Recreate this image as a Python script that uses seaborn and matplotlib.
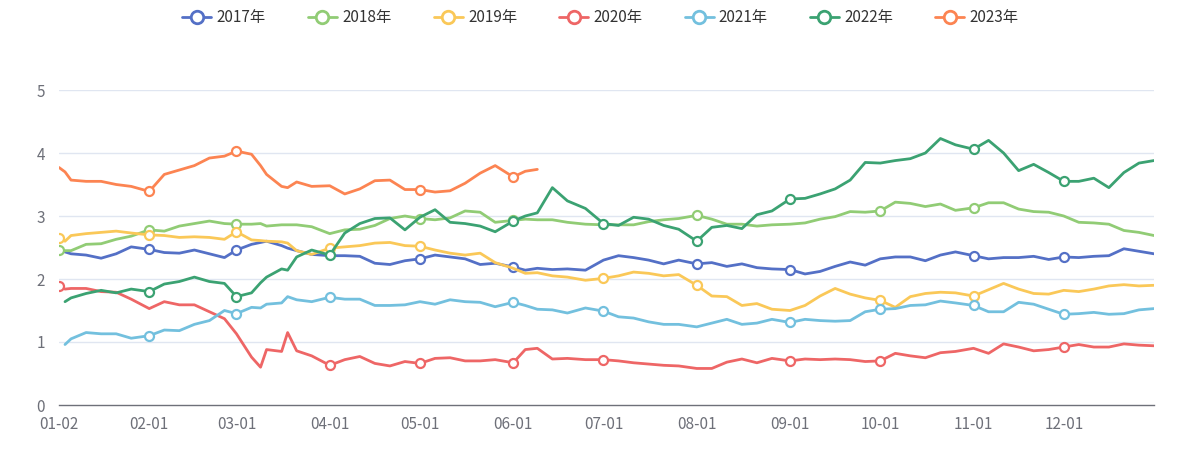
import numpy as np
import pandas as pd
import matplotlib
matplotlib.use("Agg")
import matplotlib.pyplot as plt
from matplotlib.lines import Line2D
import seaborn as sns

# ---------------- data ----------------
DATES = ["01-02", "01-04", "01-06", "01-11", "01-16", "01-21", "01-26",
         "02-01", "02-06", "02-11", "02-16", "02-21", "02-26",
         "03-01", "03-06", "03-09", "03-11", "03-16", "03-18", "03-21", "03-26",
         "04-01", "04-06", "04-11", "04-16", "04-21", "04-26",
         "05-01", "05-06", "05-11", "05-16", "05-21", "05-26",
         "06-01", "06-05", "06-09", "06-14", "06-19", "06-25",
         "07-01", "07-06", "07-11", "07-16", "07-21", "07-26",
         "08-01", "08-06", "08-11", "08-16", "08-21", "08-26",
         "09-01", "09-06", "09-11", "09-16", "09-21", "09-26",
         "10-01", "10-06", "10-11", "10-16", "10-21", "10-26",
         "11-01", "11-06", "11-11", "11-16", "11-21", "11-26",
         "12-01", "12-06", "12-11", "12-16", "12-21", "12-26", "12-31"]

TICK_LABELS = ["01-02", "02-01", "03-01", "04-01", "05-01", "06-01",
               "07-01", "08-01", "09-01", "10-01", "11-01", "12-01"]

YEARS = ["2017年", "2018年", "2019年", "2020年", "2021年", "2022年", "2023年"]
YEAR_NUMS = [2017, 2018, 2019, 2020, 2021, 2022, 2023]
HOLIDAYS = ["2017-01-02", "2023-01-02"]

nan = np.nan
v2017 = [nan, 2.43, 2.40, 2.38, 2.33, 2.40, 2.51,
         2.47, 2.42, 2.41, 2.46, 2.40, 2.34,
         2.46, 2.55, 2.58, 2.60, 2.53, 2.49, 2.45, 2.39,
         2.37, 2.37, 2.36, 2.25, 2.23, 2.29,
         2.32, 2.38, 2.35, 2.32, 2.23, 2.25,
         2.19, 2.14, 2.17, 2.15, 2.16, 2.14,
         2.30, 2.37, 2.34, 2.30, 2.24, 2.30,
         2.24, 2.26, 2.20, 2.24, 2.18, 2.16,
         2.15, 2.08, 2.12, 2.20, 2.27, 2.22,
         2.32, 2.35, 2.35, 2.29, 2.38, 2.43,
         2.37, 2.32, 2.34, 2.34, 2.36, 2.31,
         2.35, 2.34, 2.36, 2.37, 2.48, 2.44, 2.40]
v2018 = [2.46, 2.45, 2.45, 2.55, 2.56, 2.63, 2.68,
         2.78, 2.76, 2.84, 2.88, 2.92, 2.88,
         2.87, 2.87, 2.88, 2.84, 2.86, 2.86, 2.86, 2.83,
         2.72, 2.78, 2.79, 2.85, 2.96, 3.00,
         2.96, 2.94, 2.97, 3.08, 3.06, 2.90,
         2.93, 2.95, 2.94, 2.94, 2.90, 2.87,
         2.86, 2.86, 2.86, 2.91, 2.94, 2.96,
         3.01, 2.95, 2.87, 2.87, 2.84, 2.86,
         2.87, 2.89, 2.95, 2.99, 3.07, 3.06,
         3.08, 3.22, 3.20, 3.15, 3.19, 3.09,
         3.13, 3.21, 3.21, 3.11, 3.07, 3.06,
         3.00, 2.90, 2.89, 2.87, 2.77, 2.74, 2.69]
v2019 = [2.65, 2.60, 2.69, 2.72, 2.74, 2.76, 2.73,
         2.70, 2.69, 2.66, 2.67, 2.66, 2.63,
         2.75, 2.62, 2.61, 2.60, 2.59, 2.57, 2.45, 2.39,
         2.49, 2.51, 2.53, 2.57, 2.58, 2.53,
         2.52, 2.46, 2.41, 2.38, 2.41, 2.26,
         2.17, 2.09, 2.10, 2.05, 2.03, 1.98,
         2.01, 2.05, 2.11, 2.09, 2.05, 2.07,
         1.90, 1.73, 1.72, 1.58, 1.61, 1.52,
         1.50, 1.58, 1.73, 1.85, 1.76, 1.70,
         1.66, 1.55, 1.72, 1.77, 1.79, 1.78,
         1.73, 1.83, 1.93, 1.84, 1.77, 1.76,
         1.82, 1.80, 1.84, 1.89, 1.91, 1.89, 1.90]
v2020 = [1.89, 1.84, 1.85, 1.85, 1.80, 1.79, 1.68,
         1.53, 1.64, 1.59, 1.59, 1.48, 1.37,
         1.13, 0.76, 0.60, 0.88, 0.85, 1.15, 0.86, 0.78,
         0.63, 0.72, 0.77, 0.66, 0.62, 0.69,
         0.66, 0.74, 0.75, 0.70, 0.70, 0.72,
         0.67, 0.88, 0.90, 0.73, 0.74, 0.72,
         0.72, 0.70, 0.67, 0.65, 0.63, 0.62,
         0.58, 0.58, 0.68, 0.73, 0.67, 0.74,
         0.70, 0.73, 0.72, 0.73, 0.72, 0.69,
         0.70, 0.82, 0.78, 0.75, 0.83, 0.85,
         0.90, 0.82, 0.97, 0.92, 0.86, 0.88,
         0.92, 0.96, 0.92, 0.92, 0.97, 0.95, 0.94]
v2021 = [nan, 0.96, 1.05, 1.15, 1.13, 1.13, 1.06,
         1.10, 1.19, 1.18, 1.28, 1.34, 1.50,
         1.45, 1.55, 1.54, 1.60, 1.62, 1.72, 1.67, 1.64,
         1.71, 1.68, 1.68, 1.58, 1.58, 1.59,
         1.64, 1.60, 1.67, 1.64, 1.63, 1.56,
         1.63, 1.58, 1.52, 1.51, 1.46, 1.54,
         1.49, 1.40, 1.38, 1.32, 1.28, 1.28,
         1.24, 1.30, 1.36, 1.28, 1.30, 1.36,
         1.31, 1.36, 1.34, 1.33, 1.34, 1.48,
         1.52, 1.53, 1.58, 1.59, 1.65, 1.62,
         1.58, 1.48, 1.48, 1.63, 1.60, 1.52,
         1.44, 1.45, 1.47, 1.44, 1.45, 1.51, 1.53]
v2022 = [nan, 1.64, 1.70, 1.77, 1.82, 1.78, 1.84,
         1.80, 1.92, 1.96, 2.03, 1.96, 1.93,
         1.72, 1.78, 1.94, 2.03, 2.16, 2.14, 2.35, 2.46,
         2.38, 2.73, 2.88, 2.96, 2.97, 2.78,
         2.98, 3.10, 2.90, 2.88, 2.84, 2.75,
         2.92, 3.00, 3.05, 3.45, 3.24, 3.12,
         2.88, 2.85, 2.98, 2.95, 2.85, 2.79,
         2.60, 2.82, 2.85, 2.80, 3.02, 3.08,
         3.27, 3.28, 3.35, 3.43, 3.57, 3.85,
         3.84, 3.88, 3.91, 4.00, 4.23, 4.13,
         4.06, 4.20, 4.00, 3.72, 3.82, 3.69,
         3.55, 3.55, 3.60, 3.45, 3.69, 3.84, 3.88]
v2023 = [3.77, 3.70, 3.57, 3.55, 3.55, 3.50, 3.47,
         3.39, 3.66, 3.73, 3.80, 3.92, 3.95,
         4.03, 3.98, 3.80, 3.66, 3.47, 3.45, 3.54, 3.47,
         3.48, 3.35, 3.43, 3.56, 3.57, 3.42,
         3.42, 3.38, 3.40, 3.52, 3.68, 3.80,
         3.62, 3.71, 3.74]

SERIES = [v2017, v2018, v2019, v2020, v2021, v2022, v2023]
COLORS = ["#5470c6", "#91cc75", "#fac858", "#ee6666", "#73c0de", "#3ba272", "#fc8452"]

# ---------------- axis categories ----------------
CATS = list(pd.date_range("2020-01-02", "2020-12-31").strftime("%m-%d"))
cat_pos = {c: i for i, c in enumerate(CATS)}

rows = []
for name, yr, vals in zip(YEARS, YEAR_NUMS, SERIES):
    vals = list(vals) + [np.nan] * (len(DATES) - len(vals))
    for d, v in zip(DATES, vals):
        rows.append({"date": d, "pos": cat_pos[d], "value": v, "year": name, "yr": yr})
df = pd.DataFrame(rows)

# ---------------- style ----------------
sns.set_theme(style="white")
plt.rcParams["font.family"] = ["Noto Sans CJK SC", "DejaVu Sans"]

W, H = 1201, 450
fig = plt.figure(figsize=(W / 100, H / 100), dpi=100)
ax = fig.add_axes([59 / W, 1 - 405 / H, (1154 - 59) / W, (405 - 90) / H])

GRID = "#e0e6f1"
AXC = "#6e7079"


def is_trading(yr, d):
    ts = pd.Timestamp(f"{yr}-{d}")
    return ts.weekday() < 5 and ts.strftime("%Y-%m-%d") not in HOLIDAYS


for name, color in zip(YEARS, COLORS):
    sub = df[(df["year"] == name) & df["value"].notna()].reset_index(drop=True)
    marks = [i for i, (d, yr) in enumerate(zip(sub["date"], sub["yr"]))
             if (d.endswith("-01") or d == "01-02") and is_trading(yr, d)]
    sns.lineplot(data=sub, x="pos", y="value", ax=ax, color=color, linewidth=2.0,
                 sort=False, estimator=None, marker="o", markevery=marks,
                 markersize=6.5, markerfacecolor="white", markeredgecolor=color,
                 markeredgewidth=1.6, legend=False, zorder=3)

ax.set_xlim(0, len(CATS) - 1)
ax.set_ylim(0, 5)
ax.set_yticks([0, 1, 2, 3, 4, 5])
ax.set_xticks([cat_pos[t] for t in TICK_LABELS])
ax.set_xticklabels(TICK_LABELS)
ax.set_xlabel("")
ax.set_ylabel("")
ax.grid(False)
for yv in [1, 2, 3, 4, 5]:
    ax.axhline(yv, color=GRID, linewidth=1.0, zorder=0)

for s in ["left", "right", "top"]:
    ax.spines[s].set_visible(False)
ax.spines["bottom"].set_color(AXC)
ax.spines["bottom"].set_linewidth(1.0)
ax.tick_params(axis="x", colors=AXC, labelsize=11, length=5, width=1, direction="out", pad=3)
ax.tick_params(axis="y", colors=AXC, labelsize=11, length=0, pad=10)
ax.set_facecolor("white")

handles = [Line2D([0], [0], color=c, linewidth=2.0, marker="o", markersize=9,
                  markerfacecolor="white", markeredgecolor=c, markeredgewidth=2.0)
           for c in COLORS]
fig.legend(handles, YEARS, loc="upper center", bbox_to_anchor=(0.5, 1.01), ncol=7,
           frameon=False, fontsize=11, handlelength=1.9, handletextpad=0.35,
           columnspacing=2.75, labelcolor="#333333")

fig.savefig("out.png", dpi=100, facecolor="white")
